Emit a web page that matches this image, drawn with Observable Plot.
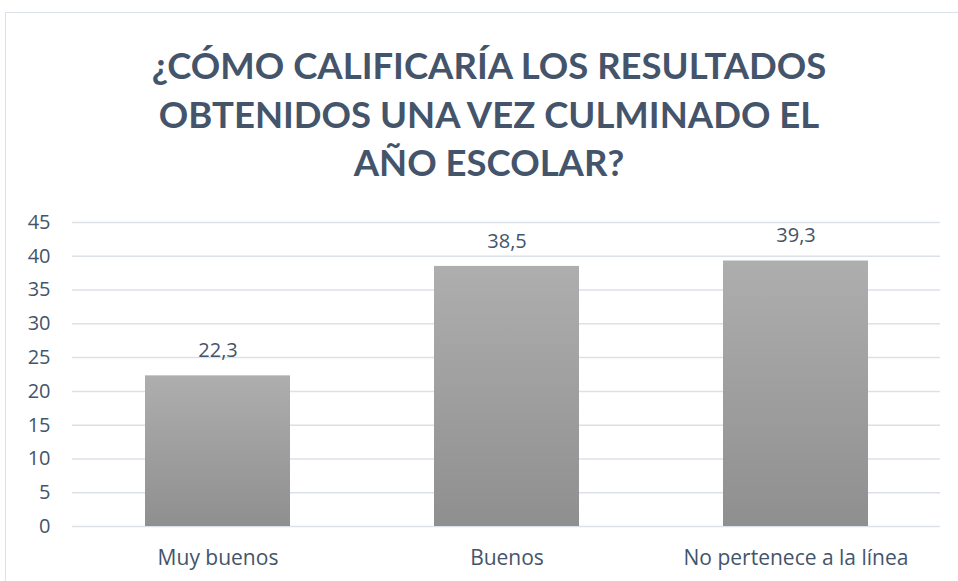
<!DOCTYPE html>
<html>
<head>
<meta charset="utf-8">
<script src="https://cdn.jsdelivr.net/npm/d3@7"></script>
<script src="https://cdn.jsdelivr.net/npm/@observablehq/plot@0.6"></script>
<style>
  html, body { margin: 0; padding: 0; background: #fff; overflow: hidden; width: 958px; height: 581px; }
  #frame { position: absolute; left: 5px; top: 12px; width: 1000px; height: 620px; border: 1.5px solid #DCE1E8; box-sizing: border-box; }
  #title { position: absolute; left: 0; top: 41px; width: 978px; text-align: center; font-family: Lato, "Open Sans", sans-serif; font-weight: 700; font-size: 36.5px; line-height: 48.5px; color: #44546A; }
  #chart { position: absolute; left: 0; top: 200px; }
</style>
</head>
<body>
<div id="frame"></div>
<div id="title">¿CÓMO CALIFICARÍA LOS RESULTADOS<br>OBTENIDOS UNA VEZ CULMINADO EL<br>AÑO ESCOLAR?</div>
<div id="chart"></div>
<script>
const categories = ["Muy buenos", "Buenos", "No pertenece a la línea"];
const values = [22.3, 38.5, 39.3];
const yTicks = [0, 5, 10, 15, 20, 25, 30, 35, 40, 45];

const data = categories.map((c, i) => ({category: c, value: values[i]}));
const fmt = v => v.toFixed(1).replace(".", ",");

const plot = Plot.plot({
  width: 958,
  height: 381,
  marginLeft: 72,
  marginRight: 18,
  marginTop: 22,
  marginBottom: 55,
  style: {fontFamily: "'Open Sans', Lato, sans-serif", color: "#44546A", background: "transparent"},
  x: {domain: categories, paddingInner: 0.5, paddingOuter: 0.25, label: null},
  y: {domain: [0, 45], label: null},
  marks: [
    Plot.gridY(yTicks, {stroke: "#DCE1E8", strokeOpacity: 1, strokeWidth: 1.5}),
    Plot.axisY(yTicks, {tickSize: 0, tickPadding: 22, fontSize: 20, fill: "#44546A", tickFormat: d => String(d), label: null}),
    Plot.axisX({tickSize: 0, tickPadding: 24, fontSize: 21, fill: "#44546A", label: null}),
    Plot.barY(data, {x: "category", y: "value", fill: "url(#barGrad)"}),
    Plot.text(data, {x: "category", y: "value", text: d => fmt(d.value), dy: -25, fontSize: 20, fill: "#44546A"})
  ]
});

const svg = d3.select(plot);
const defs = svg.insert("defs", ":first-child");
const g = defs.append("linearGradient").attr("id", "barGrad").attr("x1", 0).attr("y1", 0).attr("x2", 0).attr("y2", 1);
g.append("stop").attr("offset", "0%").attr("stop-color", "#AEAEAE");
g.append("stop").attr("offset", "100%").attr("stop-color", "#8F8F8F");

document.getElementById("chart").appendChild(plot);
</script>
</body>
</html>
